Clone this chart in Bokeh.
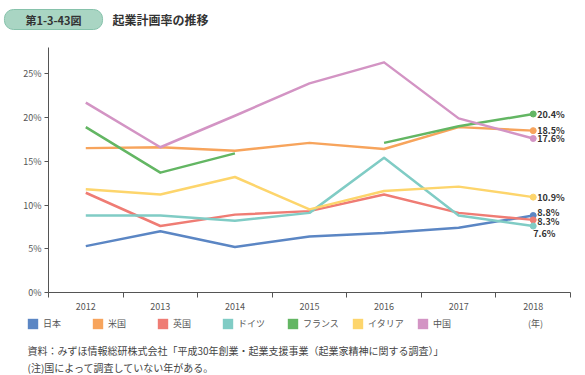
import numpy as np
from bokeh.plotting import figure
from bokeh.layouts import column, row
from bokeh.models import Legend, LegendItem, Label, FixedTicker, ColumnDataSource
from bokeh.core.properties import value
from bokeh.embed import file_html
from bokeh.resources import INLINE

# ---------------- data ----------------
years = [2012, 2013, 2014, 2015, 2016, 2017, 2018]
countries = ["日本", "米国", "英国", "ドイツ", "フランス", "イタリア", "中国"]
japan = [5.3, 7.0, 5.2, 6.4, 6.8, 7.4, 8.8]
usa = [16.5, 16.6, 16.2, 17.1, 16.4, 18.9, 18.5]
uk = [11.4, 7.6, 8.9, 9.3, 11.2, 9.1, 8.3]
germany = [8.8, 8.8, 8.2, 9.1, 15.4, 8.8, 7.6]
france = [18.9, 13.7, 15.9, None, 17.1, 19.0, 20.4]
italy = [11.8, 11.2, 13.2, 9.5, 11.6, 12.1, 10.9]
china = [21.7, 16.6, 20.2, 23.9, 26.3, 19.9, 17.6]
y_ticks = [0, 5, 10, 15, 20, 25]

title_badge = "第1-3-43図"
title_text = "起業計画率の推移"
unit_text = "(年)"
note1 = "資料：みずほ情報総研株式会社「平成30年創業・起業支援事業（起業家精神に関する調査）」"
note2 = "(注)国によって調査していない年がある。"

# ---------------- styles ----------------
series = [japan, usa, uk, germany, france, italy, china]
colors = ["#5b86c4", "#f7a45c", "#ef7c74", "#80ccc5", "#63b663", "#fdd56c", "#d394c4"]
label_dx = [4, 4, 4, 0, 4, 4, 4]
label_dy = [-3, 0, 2, 7, 0, 0, 0]
FONT = "Noto Sans CJK JP"
W = 585


def blank(height):
    f = figure(width=W, height=height, output_backend="svg", toolbar_location=None,
               x_range=(0, W), y_range=(0, height), min_border=0,
               x_axis_location=None, y_axis_location=None)
    f.outline_line_color = None
    f.grid.visible = False
    return f


# ---------------- header ----------------
head = blank(40)
head.add_layout(Label(x=53, y=21, x_units="screen", y_units="screen", text=title_badge,
                      text_align="center", text_baseline="middle",
                      text_font=FONT, text_font_size="11px", text_font_style="bold",
                      text_color="#333333",
                      background_fill_color="#a9d5c3", border_line_color="#86c2ab",
                      padding=dict(left=21, right=21, top=2, bottom=2), border_radius=9))
head.add_layout(Label(x=112, y=21, x_units="screen", y_units="screen", text=title_text,
                      text_align="left", text_baseline="middle",
                      text_font=FONT, text_font_size="12px", text_font_style="bold",
                      text_color="#333333"))

# ---------------- main chart ----------------
p = figure(width=W, height=275, output_backend="svg", toolbar_location=None,
           x_range=(2011.5, 2018.5), y_range=(0, 28),
           min_border_left=48, min_border_right=15, min_border_top=7, min_border_bottom=23)
p.outline_line_color = None
p.xgrid.grid_line_color = None
p.ygrid.grid_line_color = None

xa = p.xaxis[0]
xa.ticker = FixedTicker(ticks=years, minor_ticks=[y - 0.5 for y in years] + [years[-1] + 0.5])
xa.major_tick_line_color = None
xa.minor_tick_in = 0
xa.minor_tick_out = 5
xa.minor_tick_line_color = "#555555"
xa.axis_line_color = "#555555"
xa.major_label_text_font = FONT
xa.major_label_text_font_size = "9px"
xa.major_label_text_color = "#555555"
xa.major_label_standoff = 4

ya = p.yaxis[0]
ya.ticker = FixedTicker(ticks=y_ticks, minor_ticks=[])
ya.major_label_overrides = {t: f"{t}%" for t in y_ticks}
ya.major_tick_in = 0
ya.major_tick_out = 4
ya.major_tick_line_color = "#555555"
ya.axis_line_color = "#555555"
ya.major_label_text_font = FONT
ya.major_label_text_font_size = "9px"
ya.major_label_text_color = "#555555"
ya.major_label_standoff = 3

for vals, c in zip(series, colors):
    yv = [np.nan if v is None else v for v in vals]
    p.line(years, yv, line_color=c, line_width=2.5, line_join="round")

last_vals = [s[-1] for s in series]
src = ColumnDataSource(dict(x=[years[-1]] * len(series), y=last_vals, c=colors,
                            t=[f"{v:.1f}%" for v in last_vals], dx=label_dx, dy=label_dy))
p.scatter("x", "y", source=src, size=6, fill_color="c", line_color="c")
p.text("x", "y", text="t", source=src, x_offset="dx", y_offset="dy",
       text_font=value(FONT), text_font_size="9px", text_font_style="bold",
       text_color="#333333", text_baseline="middle", text_align="left")

# ---------------- footer (legend + notes) ----------------
foot = blank(60)
items = []
for name, c in zip(countries, colors):
    r = foot.rect(x=[np.nan], y=[np.nan], width=1, height=1, fill_color=c, line_color=None)
    items.append(LegendItem(label=name, renderers=[r]))
legend = Legend(items=items, orientation="horizontal", location=(26, 45),
                glyph_width=13, glyph_height=13, label_standoff=4, label_width=48,
                label_height=13, spacing=0, padding=0, margin=0,
                label_text_font=FONT, label_text_font_size="9px", label_text_color="#555555",
                border_line_color=None, background_fill_alpha=0)
foot.add_layout(legend, "center")
foot.add_layout(Label(x=535, y=52, x_units="screen", y_units="screen", text=unit_text,
                      text_align="center", text_baseline="middle",
                      text_font=FONT, text_font_size="9px", text_color="#555555"))
foot.add_layout(Label(x=27, y=25, x_units="screen", y_units="screen", text=note1,
                      text_align="left", text_baseline="middle",
                      text_font=FONT, text_font_size="10px", text_color="#444444"))
foot.add_layout(Label(x=27, y=8, x_units="screen", y_units="screen", text=note2,
                      text_align="left", text_baseline="middle",
                      text_font=FONT, text_font_size="10px", text_color="#444444"))

layout = column(row(head), row(p), row(foot), spacing=0)
open("out.html", "w").write(file_html(layout, INLINE))
